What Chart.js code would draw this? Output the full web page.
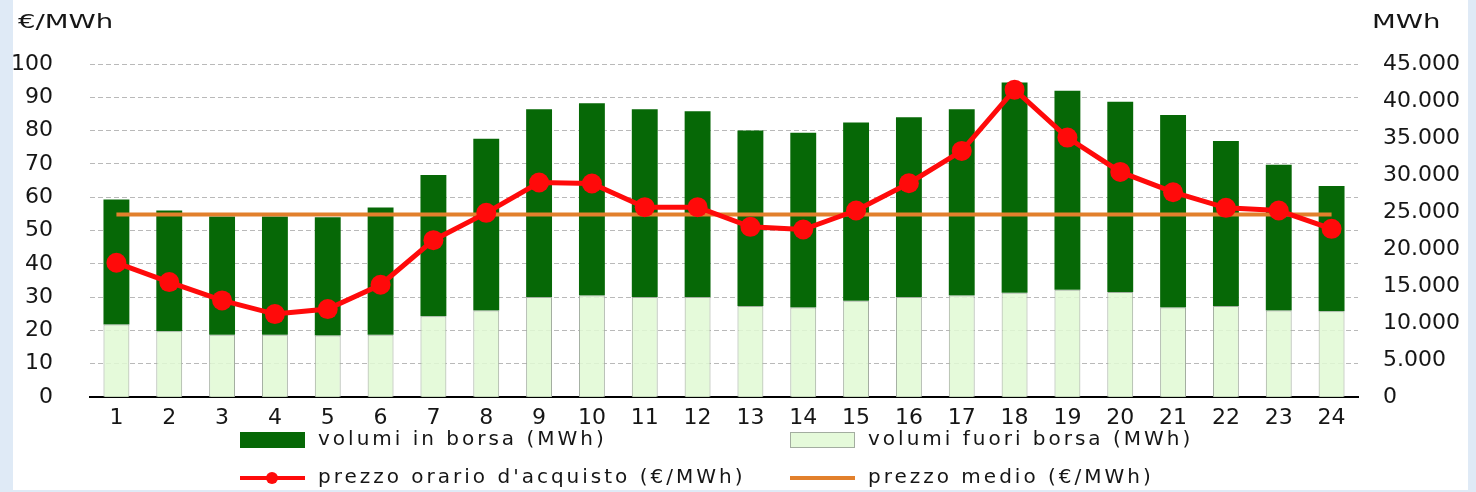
<!DOCTYPE html>
<html lang="it">
<head>
<meta charset="utf-8">
<title>Prezzi e volumi orari</title>
<script src="https://cdn.jsdelivr.net/npm/chart.js@4.4.1/dist/chart.umd.min.js"></script>
<style>
  html, body { margin: 0; padding: 0; }
  body { width: 1476px; height: 492px; position: relative; overflow: hidden; background: #dfeaf6; }
  .foglio { position: absolute; left: 13px; top: 0; width: 1455px; height: 490px; background: #fff; }
  #grafico { position: absolute; left: 0; top: 0; }
</style>
</head>
<body>
<div class="foglio"></div>
<canvas id="grafico" width="1476" height="492"></canvas>
<script>
// Ore del giorno
const ore = ['1','2','3','4','5','6','7','8','9','10','11','12','13','14','15','16','17','18','19','20','21','22','23','24'];

// Volumi (MWh) - asse destro
const volumiFuoriBorsa = [9800, 8900, 8400, 8400, 8300, 8400, 10900, 11700, 13500, 13700, 13500, 13500,
                          12300, 12100, 13000, 13500, 13700, 14100, 14500, 14200, 12100, 12300, 11700, 11600];
const volumiInBorsa = [16900, 16300, 16000, 16000, 16000, 17200, 19100, 23200, 25400, 26000, 25400, 25100,
                       23700, 23600, 24100, 24300, 25200, 28400, 26900, 25700, 26000, 22300, 19700, 16900];

// Prezzi (€/MWh) - asse sinistro
const prezzoOrario = [40.3, 34.5, 29.0, 24.9, 26.4, 33.7, 47.1, 55.3, 64.4, 64.1, 57.0, 57.0,
                      51.1, 50.3, 56.0, 64.2, 73.9, 92.3, 77.9, 67.6, 61.5, 56.8, 56.0, 50.5];
const prezzoMedio = [54.8, 54.8, 54.8, 54.8, 54.8, 54.8, 54.8, 54.8, 54.8, 54.8, 54.8, 54.8,
                     54.8, 54.8, 54.8, 54.8, 54.8, 54.8, 54.8, 54.8, 54.8, 54.8, 54.8, 54.8];

const ticksPrezzo = [0, 10, 20, 30, 40, 50, 60, 70, 80, 90, 100];
const ticksVolumi = [0, 5000, 10000, 15000, 20000, 25000, 30000, 35000, 40000, 45000];

const VERDE_SCURO = '#066806';
const VERDE_CHIARO = 'rgba(224, 249, 212, 0.85)';
const BORDO_CHIARO = '#a3ada0';
const ROSSO = '#ff0a0a';
const ARANCIO = '#e2802c';
const TESTO = '#161616';

Chart.defaults.font.family = '"DejaVu Sans", "Liberation Sans", sans-serif';
Chart.defaults.color = TESTO;

function formatMigliaia(v) {
  if (v === 0) return '0';
  return (v / 1000) + '.000';
}

// testo allargato in orizzontale (unità degli assi)
function testoLargo(ctx, testo, x, y, sx) {
  ctx.save();
  ctx.translate(x, y);
  ctx.scale(sx, 1);
  ctx.fillText(testo, 0, 0);
  ctx.restore();
}

// legenda su due colonne + unità degli assi
const legendaOre = {
  id: 'legendaOre',
  afterDraw(chart) {
    const ctx = chart.ctx;
    ctx.save();
    ctx.fillStyle = TESTO;
    ctx.textBaseline = 'middle';
    ctx.textAlign = 'left';
    ctx.font = '19px "DejaVu Sans"';
    testoLargo(ctx, '€/MWh', 18, 23, 1.45);
    testoLargo(ctx, 'MWh', 1372, 23, 1.45);

    const colX = [240, 790];
    const rigaY = [440, 478];
    const voci = [
      { ds: 1, col: 0, riga: 0, tipo: 'box' },
      { ds: 0, col: 1, riga: 0, tipo: 'box' },
      { ds: 2, col: 0, riga: 1, tipo: 'punto' },
      { ds: 3, col: 1, riga: 1, tipo: 'linea' },
    ];
    ctx.font = '20px "DejaVu Sans"';
    ctx.letterSpacing = '3px';
    for (const v of voci) {
      const d = chart.data.datasets[v.ds];
      const x = colX[v.col], y = rigaY[v.riga];
      if (v.tipo === 'box') {
        ctx.fillStyle = d.backgroundColor;
        ctx.fillRect(x, y - 8, 65, 16);
        if (d.borderWidth) {
          ctx.strokeStyle = d.borderColor;
          ctx.lineWidth = 1;
          ctx.strokeRect(x + 0.5, y - 7.5, 64, 15);
        }
      } else {
        ctx.strokeStyle = d.borderColor;
        ctx.lineWidth = 4;
        ctx.beginPath();
        ctx.moveTo(x, y);
        ctx.lineTo(x + 65, y);
        ctx.stroke();
        if (v.tipo === 'punto') {
          ctx.fillStyle = d.pointBackgroundColor;
          ctx.beginPath();
          ctx.arc(x + 32, y, 6, 0, Math.PI * 2);
          ctx.fill();
        }
      }
      ctx.fillStyle = TESTO;
      ctx.fillText(d.label, x + 78, y);
    }
    ctx.restore();
  }
};

new Chart(document.getElementById('grafico'), {
  type: 'bar',
  data: {
    labels: ore,
    datasets: [
      {
        label: 'volumi fuori borsa (MWh)',
        data: volumiFuoriBorsa,
        yAxisID: 'yVolumi',
        stack: 'volumi',
        order: 3,
        backgroundColor: VERDE_CHIARO,
        borderColor: BORDO_CHIARO,
        borderWidth: 1,
        borderSkipped: 'bottom',
        barPercentage: 0.49,
        categoryPercentage: 1
      },
      {
        label: 'volumi in borsa (MWh)',
        data: volumiInBorsa,
        yAxisID: 'yVolumi',
        stack: 'volumi',
        order: 3,
        backgroundColor: VERDE_SCURO,
        borderWidth: 0,
        barPercentage: 0.49,
        categoryPercentage: 1
      },
      {
        type: 'line',
        label: "prezzo orario d'acquisto (€/MWh)",
        data: prezzoOrario,
        yAxisID: 'yPrezzo',
        order: 0,
        borderColor: ROSSO,
        borderWidth: 5,
        pointRadius: 10,
        pointBackgroundColor: ROSSO,
        pointBorderWidth: 0,
        tension: 0,
        clip: false
      },
      {
        type: 'line',
        label: 'prezzo medio (€/MWh)',
        data: prezzoMedio,
        yAxisID: 'yPrezzo',
        order: 1,
        borderColor: ARANCIO,
        borderWidth: 4,
        pointRadius: 0
      }
    ]
  },
  options: {
    responsive: false,
    animation: false,
    events: [],
    layout: { padding: { top: 64, left: 0, right: 0, bottom: 0 } },
    plugins: {
      legend: { display: false },
      tooltip: { enabled: false }
    },
    scales: {
      x: {
        stacked: true,
        grid: { display: false },
        border: { display: true, color: '#000', width: 2 },
        ticks: { font: { size: 22 }, padding: 0, maxRotation: 0, autoSkip: false },
        afterFit: s => { s.height = 95; }
      },
      yPrezzo: {
        position: 'left',
        min: 0,
        max: 100,
        afterBuildTicks: s => { s.ticks = ticksPrezzo.map(v => ({ value: v })); },
        grid: { color: '#b9b9b9', lineWidth: 1, drawTicks: false },
        border: { display: false, dash: [5, 3] },
        ticks: { font: { size: 22 }, padding: 37 },
        afterFit: s => { s.width = 90; }
      },
      yVolumi: {
        position: 'right',
        stacked: true,
        min: 0,
        max: 45000,
        afterBuildTicks: s => { s.ticks = ticksVolumi.map(v => ({ value: v })); },
        grid: { display: false, drawTicks: false },
        border: { display: false },
        ticks: { font: { size: 22 }, padding: 25, callback: v => formatMigliaia(v) },
        afterFit: s => { s.width = 118; }
      }
    }
  },
  plugins: [legendaOre]
});
</script>
</body>
</html>
